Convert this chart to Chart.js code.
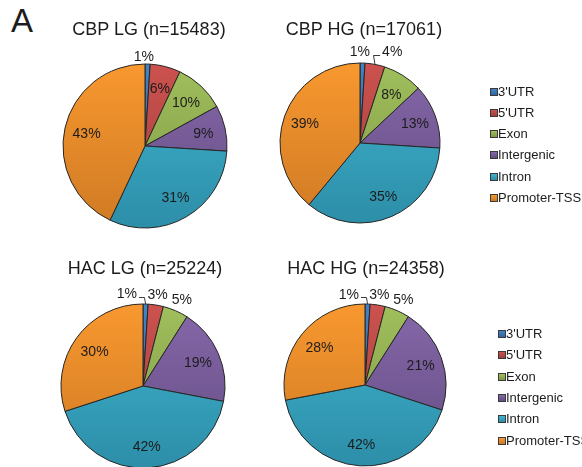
<!DOCTYPE html>
<html>
<head>
<meta charset="utf-8">
<script src="https://cdn.jsdelivr.net/npm/chart.js@4/dist/chart.umd.min.js"></script>
<style>
  html, body { margin: 0; padding: 0; width: 582px; height: 467px; overflow: hidden; background: #fff;
    font-family: "Liberation Sans", Arial, sans-serif; color: #1c1c1c; }
  canvas { position: absolute; }
  .tag { position: absolute; left: 11px; top: 4px; font-size: 33px; line-height: 33px; }
  .title { position: absolute; font-size: 18px; line-height: 18px; white-space: nowrap; transform: translate(-50%, -50%); }
  .legend { position: absolute; font-size: 13px; }
  .legend .item { position: absolute; left: 0; height: 15px; line-height: 15px; white-space: nowrap; }
  .legend .box { position: absolute; left: 0; top: 4px; width: 6px; height: 6px; border: 1px solid #3a3a3a; }
  .legend .txt { position: absolute; left: 8px; top: 0; }
</style>
</head>
<body>
<div class="tag">A</div>

<canvas id="c0" width="300" height="260"></canvas>
<canvas id="c1" width="300" height="260"></canvas>
<canvas id="c2" width="300" height="260"></canvas>
<canvas id="c3" width="300" height="260"></canvas>

<script>
// Genomic feature categories and the share (%) of peaks in each, per sample
const categories = ["3'UTR", "5'UTR", "Exon", "Intergenic", "Intron", "Promoter-TSS"];
const cbpLG = [1, 6, 10, 9, 31, 43];
const cbpHG = [1, 4, 8, 13, 35, 39];
const hacLG = [1, 3, 5, 19, 42, 30];
const hacHG = [1, 3, 5, 21, 42, 28];
const sampleTitles = ["CBP LG (n=15483)", "CBP HG (n=17061)", "HAC LG (n=25224)", "HAC HG (n=24358)"];

// Slice fills: light at the top of the pie, darker at the bottom
const topColors    = ["#4183c6", "#cc524e", "#a0bf5c", "#8668a9", "#3fb3cf", "#f8982f"];
const bottomColors = ["#2f659f", "#a03e3b", "#7d9843", "#634c83", "#2d8ea8", "#cf7a24"];

// Panel placement: canvas origin, pie centre and radius, title centre,
// plus labels that sit outside their slice (radius factor, nudge, optional leader line)
const panels = [
  { data: cbpLG, L: 0,   T: 0,   cx: 145, cy: 146, r: 82, tx: 149, ty: 29,
    outside: { 0: { f: 1.1, dx: -4, dy: 0 } } },
  { data: cbpHG, L: 270, T: 0,   cx: 360, cy: 143, r: 80, tx: 364, ty: 29,
    outside: { 0: { f: 1.15, dx: -3, dy: 0 }, 1: { f: 1.15, dx: 15, dy: -1, leader: true } } },
  { data: hacLG, L: 0,   T: 220, cx: 143, cy: 386, r: 82, tx: 145, ty: 268,
    outside: { 0: { f: 1.14, dx: -19, dy: 1, leader: true }, 1: { f: 1.14, dx: 0, dy: 0 }, 2: { f: 1.16, dx: 1, dy: 0 } } },
  { data: hacHG, L: 270, T: 220, cx: 365, cy: 385, r: 81, tx: 366, ty: 268,
    outside: { 0: { f: 1.14, dx: -19, dy: 1, leader: true }, 1: { f: 1.14, dx: 0, dy: 0 }, 2: { f: 1.16, dx: 1, dy: 0 } } }
];

const legendSpots = [
  { x: 490, y: [91, 112.5, 133.5, 154.5, 176, 197] },
  { x: 498, y: [333, 354.5, 376, 397, 418, 440] }
];

const W = 300, H = 260;

// Vertical gradient per slice colour, spanning the pie's bounding box
function sliceFill(ctx) {
  const i = ctx.dataIndex;
  const chart = ctx.chart;
  const area = chart.chartArea;
  if (!area || i === undefined) return topColors[i || 0];
  chart.$fills = chart.$fills || {};
  if (!chart.$fills[i]) {
    const g = chart.ctx.createLinearGradient(0, area.top, 0, area.bottom);
    g.addColorStop(0, topColors[i]);
    g.addColorStop(1, bottomColors[i]);
    chart.$fills[i] = g;
  }
  return chart.$fills[i];
}

// Percent labels inside the slices, or outside with a short leader line
const sliceLabels = {
  id: 'sliceLabels',
  afterDatasetsDraw(chart, args, opts) {
    const meta = chart.getDatasetMeta(0);
    const values = chart.data.datasets[0].data;
    const ctx = chart.ctx;
    const outside = opts.outside || {};
    ctx.save();
    ctx.font = '14px "Liberation Sans", Arial, sans-serif';
    ctx.fillStyle = '#1c1c1c';
    ctx.strokeStyle = '#3a3a3a';
    ctx.lineWidth = 1;
    ctx.textAlign = 'center';
    ctx.textBaseline = 'middle';
    meta.data.forEach((arc, i) => {
      const p = arc.getProps(['x', 'y', 'startAngle', 'endAngle', 'outerRadius'], true);
      const mid = (p.startAngle + p.endAngle) / 2;
      const o = outside[i];
      const f = o ? o.f : 0.73;
      const lx = p.x + Math.cos(mid) * p.outerRadius * f + (o ? o.dx : 0);
      const ly = p.y + Math.sin(mid) * p.outerRadius * f + (o ? o.dy : 0);
      const text = values[i] + '%';
      ctx.fillText(text, lx, ly + 1);
      if (o && o.leader) {
        const ex = p.x + Math.cos(mid) * p.outerRadius;
        const ey = p.y + Math.sin(mid) * p.outerRadius;
        const w = ctx.measureText(text).width;
        const elbowX = Math.round(ex) - 1.5;
        const elbowY = Math.round(ly) + 3.5;
        const endX = lx > elbowX ? lx - w / 2 - 2 : lx + w / 2 + 2;
        ctx.beginPath();
        ctx.moveTo(ex, ey);
        ctx.lineTo(elbowX, elbowY);
        ctx.lineTo(endX, elbowY);
        ctx.stroke();
      }
    });
    ctx.restore();
  }
};

panels.forEach((pn, k) => {
  const cv = document.getElementById('c' + k);
  cv.style.left = pn.L + 'px';
  cv.style.top = pn.T + 'px';
  const R = pn.r + 0.5;
  const size = 2 * R;
  const padLeft = pn.cx - pn.L - R;
  const padTop = pn.cy - pn.T - R;
  new Chart(cv, {
    type: 'pie',
    data: {
      labels: categories,
      datasets: [{
        data: pn.data,
        backgroundColor: sliceFill,
        borderColor: '#262626',
        borderWidth: 1,
        hoverOffset: 0
      }]
    },
    options: {
      responsive: false,
      animation: false,
      devicePixelRatio: 1,
      events: [],
      layout: { padding: { left: padLeft, top: padTop, right: W - padLeft - size, bottom: H - padTop - size } },
      plugins: {
        legend: { display: false },
        tooltip: { enabled: false },
        title: { display: false },
        sliceLabels: { outside: pn.outside }
      }
    },
    plugins: [sliceLabels]
  });

  const t = document.createElement('div');
  t.className = 'title';
  t.style.left = pn.tx + 'px';
  t.style.top = pn.ty + 'px';
  t.textContent = sampleTitles[k];
  document.body.appendChild(t);
});

// Legends next to the right-hand pies
legendSpots.forEach(spot => {
  const lg = document.createElement('div');
  lg.className = 'legend';
  lg.style.left = spot.x + 'px';
  lg.style.top = '0px';
  categories.forEach((name, i) => {
    const it = document.createElement('div');
    it.className = 'item';
    it.style.top = (spot.y[i] - 7.5) + 'px';
    const b = document.createElement('span');
    b.className = 'box';
    b.style.background = 'linear-gradient(' + topColors[i] + ',' + bottomColors[i] + ')';
    const s = document.createElement('span');
    s.className = 'txt';
    s.textContent = name;
    it.appendChild(b);
    it.appendChild(s);
    lg.appendChild(it);
  });
  document.body.appendChild(lg);
});
</script>
</body>
</html>
